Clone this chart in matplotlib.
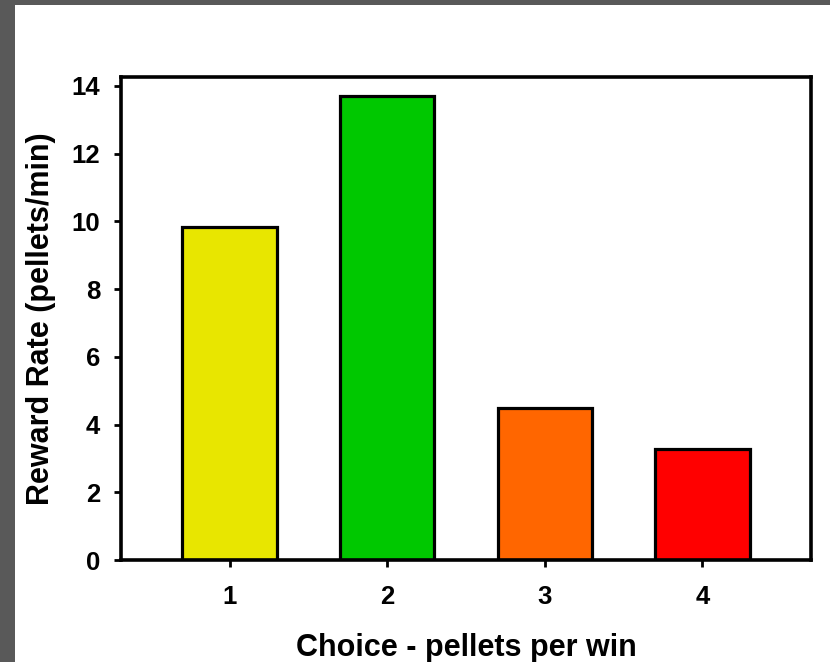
import numpy as np
import matplotlib.pyplot as plt
from matplotlib.patches import Rectangle

# data
choices = [1, 2, 3, 4]
reward_rate = [9.83, 13.7, 4.49, 3.28]
bar_colors = ['#E8E600', '#00C800', '#FF6600', '#FF0000']
yticks = [0, 2, 4, 6, 8, 10, 12, 14]

plt.rcParams['font.family'] = ['Liberation Sans', 'DejaVu Sans']
plt.rcParams['font.weight'] = 'bold'

fig = plt.figure(figsize=(8.3, 6.62), dpi=100, facecolor='#595959')
# white page with the gray band on top and left
fig.patches.append(Rectangle((15 / 830, 0), 1, 1 - 5 / 662, transform=fig.transFigure,
                             facecolor='white', edgecolor='none', zorder=-5))

ax = fig.add_axes([121 / 830, 1 - 560 / 662, (811 - 121) / 830, (560 - 77) / 662])
ax.set_zorder(2)
ax.bar(choices, reward_rate, width=0.6, color=bar_colors, edgecolor='black', linewidth=2.3, zorder=2)

ax.set_xlim(0.31, 4.69)
ax.set_ylim(0, 14.26)
ax.set_xticks(choices)
ax.set_yticks(yticks)
for s in ax.spines.values():
    s.set_linewidth(2.6)
ax.tick_params(axis='both', direction='out', width=2, length=5, labelsize=18.5)
ax.tick_params(axis='y', pad=10)
ax.tick_params(axis='x', pad=13)
for lab in ax.get_xticklabels() + ax.get_yticklabels():
    lab.set_fontweight('bold')

ax.set_xlabel('Choice - pellets per win', fontsize=22, fontweight='bold', labelpad=17)
ax.set_ylabel('Reward Rate (pellets/min)', fontsize=22, fontweight='bold', labelpad=11)

fig.savefig('out.png', dpi=100, facecolor=fig.get_facecolor())
